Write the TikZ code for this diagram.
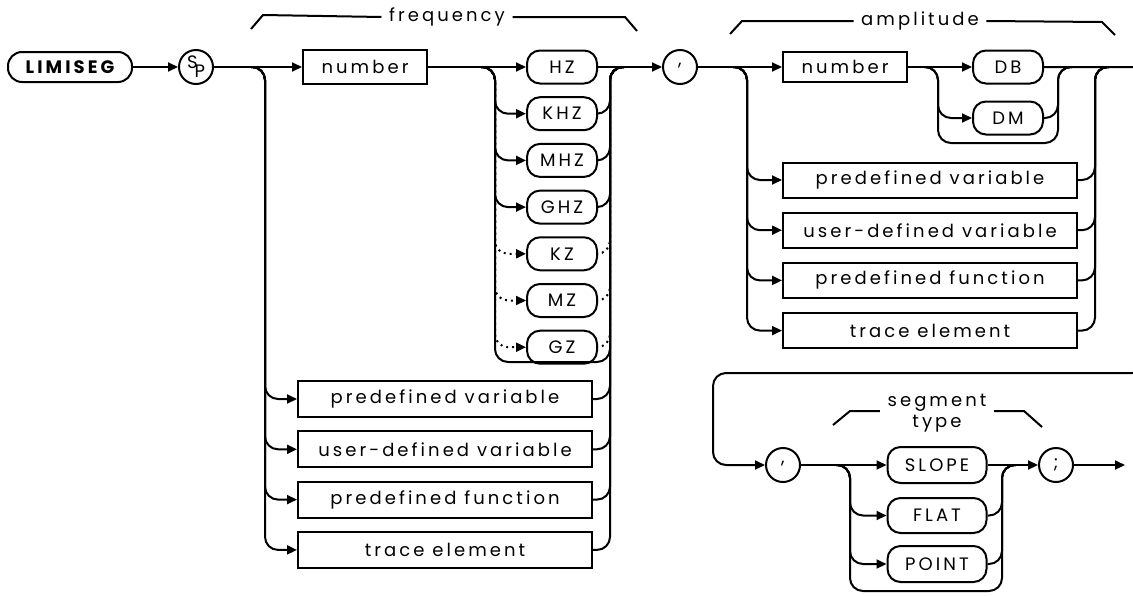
\documentclass[tikz,border=0pt]{standalone}
\usepackage{fontspec}
\usetikzlibrary{arrows.meta, positioning}
\newfontfamily\plotfont[LetterSpace=17]{Poppins}

\begin{document}
\begin{tikzpicture}[
    x=0.5pt, y=0.5pt,
    line width=1pt,
    >={Triangle[length=5pt,width=4.5pt]},
    every node/.style={font=\plotfont\fontsize{9}{10.5}\selectfont},
    kwbox/.style={rectangle, draw, rounded corners=7pt, minimum width=62pt, minimum height=15pt, inner sep=0pt, font=\plotfont\bfseries\fontsize{9}{10}\selectfont},
    unitbox/.style={rectangle, draw, rounded corners=6.5pt, minimum width=35pt, minimum height=16.5pt, inner sep=0pt},
    numbox/.style={rectangle, draw, minimum width=62pt, minimum height=17pt, inner sep=0pt},
    itembox/.style={rectangle, draw, minimum width=147pt, minimum height=18pt, inner sep=0pt},
    sepcirc/.style={circle, draw, minimum size=17pt, inner sep=0pt},
    rc/.style={rounded corners=6.5pt},
    flow/.style={->, rounded corners=6.5pt}
]
\useasboundingbox (0,0) rectangle (1133,-595);

% keyword and separator
\node[kwbox] (limiseg) at (70,-67) {LIMISEG};
\node[sepcirc] (sp) at (196,-67) {\raisebox{.35ex}{S}\kern-1.5pt\raisebox{-.55ex}{P}};

% frequency
\node (freqlbl) at (447,-17) {frequency};
\node[numbox] (fnum) at (365,-67) {number};
\node[unitbox] (hz) at (562,-67) {HZ};
\node[unitbox, below=5.85pt of hz] (khz) {KHZ};
\node[unitbox, below=5.85pt of khz] (mhz) {MHZ};
\node[unitbox, below=5.85pt of mhz] (ghz) {GHZ};
\node[unitbox, below=5.85pt of ghz] (kz) {KZ};
\node[unitbox, below=5.85pt of kz] (mz) {MZ};
\node[unitbox, below=5.85pt of mz] (gz) {GZ};
\node[itembox] (fpv) at (445,-399) {predefined variable};
\node[itembox, below=6.15pt of fpv] (fudv) {user-defined variable};
\node[itembox, below=6.15pt of fudv] (fpf) {predefined function};
\node[itembox, below=6.15pt of fpf] (fte) {trace element};

\coordinate (fsplit) at (251,-67);
\coordinate (fl) at (265,-67);
\coordinate (fr) at (610,-67);
\coordinate (fjoin) at (624,-67);
\coordinate (usplit) at (481,-67);
\coordinate (ul) at (495,-67);
\coordinate (ubl) at (495,-362);
\coordinate (ubr) at (610,-362);

% amplitude
\node[sepcirc] (comma1) at (680,-67) {\raisebox{.5ex}{,}};
\node (amplbl) at (920,-21) {amplitude};
\node[numbox, minimum height=15pt] (anum) at (845,-67) {number};
\node[unitbox] (db) at (1008,-67) {DB};
\node[unitbox, below=8pt of db] (dm) {DM};
\node[itembox, minimum height=17.5pt] (apv) at (930,-180) {predefined variable};
\node[itembox, minimum height=17.5pt, below=6.6pt of apv] (audv) {user-defined variable};
\node[itembox, minimum height=17.5pt, below=6.6pt of audv] (apf) {predefined function};
\node[itembox, minimum height=17.5pt, below=6.6pt of apf] (ate) {trace element};

\coordinate (asplit) at (733,-67);
\coordinate (al) at (747,-67);
\coordinate (ar) at (1095,-67);
\coordinate (ajoin) at (1109,-67);
\coordinate (dsplit) at (924,-67);
\coordinate (dl) at (938,-67);
\coordinate (dr) at (1058,-67);
\coordinate (djoin) at (1072,-67);
\coordinate (dbl) at (938,-143);
\coordinate (dbr) at (1058,-143);
\coordinate (wrapa) at (1145,-110);
\coordinate (wrapb) at (1145,-330);
\coordinate (bl) at (713,-373);

% segment type
\node[sepcirc] (comma2) at (783,-465) {\raisebox{.5ex}{,}};
\node[align=center] (seglbl) at (937,-413) {segment\\type};
\node[unitbox, minimum width=49.5pt, minimum height=18pt] (slope) at (937,-465) {SLOPE};
\node[unitbox, minimum width=49.5pt, minimum height=17.5pt, below=6.5pt of slope] (flat) {FLAT};
\node[unitbox, minimum width=49.5pt, minimum height=18pt, below=5.5pt of flat] (point) {POINT};
\node[sepcirc] (semi) at (1056,-465) {;};

\coordinate (ssplit) at (836,-465);
\coordinate (sl) at (850,-465);
\coordinate (sr) at (1002,-465);
\coordinate (sjoin) at (1016,-465);
\coordinate (sbl) at (850,-591);
\coordinate (sbr) at (1002,-591);
\coordinate (stop) at (1125,-465);

% brackets
\draw (251,-29) -- (263,-15) -- (freqlbl.west);
\draw (freqlbl.east) -- (625,-17) -- (637,-31);
\draw (730,-34) -- (742,-21) -- (amplbl.west);
\draw (amplbl.east) -- (1102,-22) -- (1115,-35);
\draw (833,-425) -- (850,-411) -- (seglbl.west |- 0,-411);
\draw (seglbl.east |- 0,-411) -- (1024,-411) -- (1042,-427);

% main line
\draw[->] (limiseg) -- (sp);
\draw[->] (sp) -- (fnum);
\draw[->] (fnum) -- (hz);
\draw[->] (hz) -- (comma1);
\draw[->] (comma1) -- (anum);
\draw[->] (anum) -- (db);
\draw[rc] (db) -| (wrapa);

% frequency branches
\foreach \n in {fpv,fudv,fpf,fte} {
  \draw[flow] (fsplit) -| (fl |- \n) -- (\n);
  \draw[rc] (\n) -| (fr) -- (fjoin);
}
\foreach \n in {khz,mhz,ghz} {
  \draw[flow] (usplit) -| (ul |- \n) -- (\n);
  \draw[rc] (\n) -| (fr) -- (fjoin);
}
\foreach \n in {kz,mz,gz} {
  \draw[flow, dotted] (usplit) -| (ul |- \n) -- (\n);
  \draw[rc, dotted] (\n) -| (fr) -- (fjoin);
}
\draw[rc] (usplit) -| (ubl) -- (ubr) |- (fjoin);

% amplitude branches
\draw[flow] (dsplit) -| (dl |- dm) -- (dm);
\draw[rc] (dm) -| (dr) -- (djoin);
\draw[rc] (dsplit) -| (dbl) -- (dbr) |- (djoin);
\foreach \n in {apv,audv,apf,ate} {
  \draw[flow] (asplit) -| (al |- \n) -- (\n);
  \draw[rc] (\n) -| (ar) -- (ajoin);
}

% second line
\draw[flow] (wrapb) |- (bl) |- (comma2);
\draw[->] (comma2) -- (slope);
\draw[->] (slope) -- (semi);
\foreach \n in {flat,point} {
  \draw[flow] (ssplit) -| (sl |- \n) -- (\n);
  \draw[rc] (\n) -| (sr) -- (sjoin);
}
\draw[rc] (ssplit) -| (sbl) -- (sbr) |- (sjoin);
\draw[->] (semi) -- (stop);
\end{tikzpicture}
\end{document}
